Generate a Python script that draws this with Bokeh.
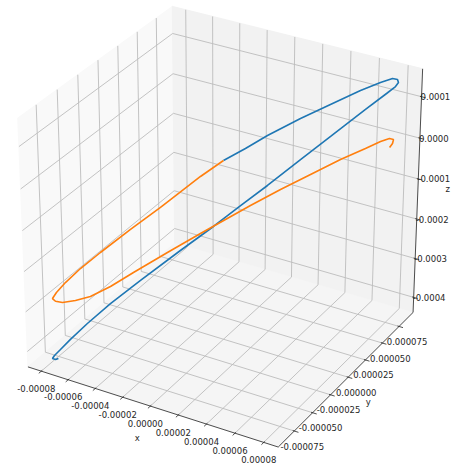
import numpy as np
from bokeh.plotting import figure
from bokeh.models import Range1d
from bokeh.embed import file_html
from bokeh.resources import INLINE
from bokeh.core.properties import value

# ---------------- data ----------------
blue_x = [0.0, 0.99e-5, 1.98e-5, 3.47e-5, 4.82e-5, 6.18e-5, 7.08e-5, 7.63e-5, 7.86e-5, 7.91e-5,
          7.78e-5, 7.38e-5, 6.43e-5, 4.86e-5, 3.50e-5, 2.00e-5, 0.78e-5, -0.46e-5, -1.97e-5, -3.80e-5,
          -5.18e-5, -6.25e-5, -7.04e-5, -7.50e-5, -7.78e-5, -7.88e-5, -7.74e-5, -7.61e-5]
blue_y = [0.0, 1.06e-5, 2.13e-5, 3.72e-5, 5.17e-5, 6.62e-5, 7.60e-5, 8.18e-5, 8.43e-5, 8.48e-5,
          8.34e-5, 7.91e-5, 6.90e-5, 5.21e-5, 3.75e-5, 2.15e-5, 0.83e-5, -0.49e-5, -2.11e-5, -4.07e-5,
          -5.56e-5, -6.70e-5, -7.54e-5, -8.05e-5, -8.35e-5, -8.45e-5, -8.30e-5, -8.16e-5]
blue_z = [0.64e-5, 2.85e-5, 5.30e-5, 8.38e-5, 10.83e-5, 13.29e-5, 14.61e-5, 15.21e-5, 14.82e-5, 14.08e-5,
          13.21e-5, 11.81e-5, 8.60e-5, 3.16e-5, -1.49e-5, -6.79e-5, -10.83e-5, -15.11e-5, -19.96e-5, -26.08e-5,
          -30.81e-5, -35.04e-5, -38.48e-5, -40.67e-5, -41.98e-5, -42.67e-5, -43.03e-5, -42.88e-5]

orange_x = [0.0, -1.04e-5, -1.81e-5, -2.85e-5, -4.21e-5, -5.58e-5, -6.49e-5, -7.18e-5, -7.60e-5, -7.78e-5,
            -7.65e-5, -7.34e-5, -6.76e-5, -6.08e-5, -5.16e-5, -4.11e-5, -2.56e-5, -1.05e-5, 0.09e-5, 1.23e-5,
            2.60e-5, 3.97e-5, 5.34e-5, 6.48e-5, 7.17e-5, 7.58e-5, 7.77e-5, 7.73e-5, 7.60e-5]
orange_y = [0.0, -1.11e-5, -1.94e-5, -3.05e-5, -4.51e-5, -5.98e-5, -6.96e-5, -7.70e-5, -8.14e-5, -8.35e-5,
            -8.21e-5, -7.87e-5, -7.24e-5, -6.52e-5, -5.54e-5, -4.41e-5, -2.74e-5, -1.13e-5, 0.10e-5, 1.32e-5,
            2.79e-5, 4.26e-5, 5.72e-5, 6.95e-5, 7.69e-5, 8.13e-5, 8.33e-5, 8.29e-5, 8.15e-5]
orange_z = [0.64e-5, -2.51e-5, -5.12e-5, -8.76e-5, -13.16e-5, -17.82e-5, -21.10e-5, -24.06e-5, -26.23e-5, -27.58e-5,
            -28.36e-5, -28.92e-5, -28.86e-5, -28.38e-5, -26.56e-5, -23.85e-5, -20.02e-5, -16.41e-5, -13.78e-5, -11.14e-5,
            -8.18e-5, -5.46e-5, -2.73e-5, -0.83e-5, 0.40e-5, 0.86e-5, 0.49e-5, -0.45e-5, -1.33e-5]

x_lim = [-0.00009, 0.00009]
y_lim = [-0.0000965, 0.0000965]
z_lim = [-0.0004392, 0.0001664]

x_ticks = [-0.00008, -0.00006, -0.00004, -0.00002, 0.0, 0.00002, 0.00004, 0.00006, 0.00008]
x_tick_labels = ["-0.00008", "-0.00006", "-0.00004", "-0.00002", "0.00000",
                 "0.00002", "0.00004", "0.00006", "0.00008"]
y_ticks = [-0.000075, -0.00005, -0.000025, 0.0, 0.000025, 0.00005, 0.000075]
y_tick_labels = ["-0.000075", "-0.000050", "-0.000025", "0.000000",
                 "0.000025", "0.000050", "0.000075"]
z_ticks = [-0.0004, -0.0003, -0.0002, -0.0001, 0.0, 0.0001]
z_tick_labels = ["-0.0004", "-0.0003", "-0.0002", "-0.0001", "0.0000", "0.0001"]

# ---------------- 3D view (matplotlib-like default view) ----------------
ELEV, AZIM, DIST = 30.0, -60.0, 10.0
el, az = np.radians(ELEV), np.radians(AZIM)
Rc = np.array([0.5, 0.5, 0.5])
EYE = Rc + DIST * np.array([np.cos(az) * np.cos(el), np.sin(az) * np.cos(el), np.sin(el)])
NV = (EYE - Rc) / np.linalg.norm(EYE - Rc)
UV = np.cross(np.array([0.0, 0.0, 1.0]), NV)
UV = UV / np.linalg.norm(UV)
VV = np.cross(NV, UV)


def proj(x, y, z):
    x = np.atleast_1d(np.asarray(x, float))
    y = np.atleast_1d(np.asarray(y, float))
    z = np.atleast_1d(np.asarray(z, float))
    p = np.stack([(x - x_lim[0]) / (x_lim[1] - x_lim[0]),
                  (y - y_lim[0]) / (y_lim[1] - y_lim[0]),
                  (z - z_lim[0]) / (z_lim[1] - z_lim[0])], axis=-1)
    d = p - EYE
    w = -(d @ NV)
    return list((d @ UV) / w), list((d @ VV) / w)


x0, x1 = x_lim
y0, y1 = y_lim
z0, z1 = z_lim
Rx, Ry, Rz = x1 - x0, y1 - y0, z1 - z0

p = figure(width=452, height=465, output_backend="svg", toolbar_location=None,
           x_range=Range1d(-0.07719, 0.07927), y_range=Range1d(-0.08669, 0.07698),
           x_axis_type=None, y_axis_type=None, min_border=0)
p.outline_line_color = None
p.background_fill_color = "white"
p.border_fill_color = "white"

# panes
panes = [
    ([x0, x0, x0, x0], [y0, y1, y1, y0], [z0, z0, z1, z1], "#f9f9f9"),
    ([x0, x1, x1, x0], [y1, y1, y1, y1], [z0, z0, z1, z1], "#f2f2f2"),
    ([x0, x1, x1, x0], [y0, y0, y1, y1], [z0, z0, z0, z0], "#f5f5f5"),
]
pxs, pys, pcs = [], [], []
for X, Y, Z, c in panes:
    a, b = proj(X, Y, Z)
    pxs.append(a); pys.append(b); pcs.append(c)
p.patches(pxs, pys, fill_color=pcs, line_color=pcs, line_width=1)

# grid lines
gxs, gys = [], []
for v in x_ticks:
    a, b = proj([v, v, v], [y0, y1, y1], [z0, z0, z1]); gxs.append(a); gys.append(b)
for v in y_ticks:
    a, b = proj([x1, x0, x0], [v, v, v], [z0, z0, z1]); gxs.append(a); gys.append(b)
for v in z_ticks:
    a, b = proj([x0, x0, x1], [y0, y1, y1], [v, v, v]); gxs.append(a); gys.append(b)
p.multi_line(gxs, gys, line_color="#bcbcbc", line_width=0.9)

# axis lines
axs, ays = [], []
for X, Y, Z in [([x0, x1], [y0, y0], [z0, z0]), ([x1, x1], [y0, y1], [z0, z0]), ([x1, x1], [y1, y1], [z0, z1])]:
    a, b = proj(X, Y, Z); axs.append(a); ays.append(b)
p.multi_line(axs, ays, line_color="#222222", line_width=0.8)

# tick marks
txs, tys = [], []
for v in x_ticks:
    a, b = proj([v, v], [y0 + 0.006 * Ry, y0 - 0.016 * Ry], [z0, z0]); txs.append(a); tys.append(b)
for v in y_ticks:
    a, b = proj([x1 - 0.006 * Rx, x1 + 0.016 * Rx], [v, v], [z0, z0]); txs.append(a); tys.append(b)
for v in z_ticks:
    a, b = proj([x1 - 0.006 * Rx, x1 + 0.016 * Rx], [y1, y1], [v, v]); txs.append(a); tys.append(b)
p.multi_line(txs, tys, line_color="#222222", line_width=0.8)

FONT = value("DejaVu Sans")
FS = value("8.5px")
TC = "#262626"

a, b = proj(x_ticks, [y0] * len(x_ticks), [z0] * len(x_ticks))
p.text(a, b, text=x_tick_labels, text_font=FONT, text_font_size=FS, text_color=TC,
       text_align="center", text_baseline="middle", x_offset=-5, y_offset=17)
a, b = proj([x1] * len(y_ticks), y_ticks, [z0] * len(y_ticks))
p.text(a, b, text=y_tick_labels, text_font=FONT, text_font_size=FS, text_color=TC,
       text_align="center", text_baseline="middle", x_offset=8, y_offset=15)
a, b = proj([x1] * len(z_ticks), [y1] * len(z_ticks), z_ticks)
p.text(a, b, text=z_tick_labels, text_font=FONT, text_font_size=FS, text_color=TC,
       text_align="left", text_baseline="middle", x_offset=-1, y_offset=0)

# axis titles
a, b = proj([(x0 + x1) / 2], [y0], [z0])
p.text(a, b, text=["x"], text_font=FONT, text_font_size=FS, text_color=TC,
       text_align="center", text_baseline="middle", x_offset=-13, y_offset=32)
a, b = proj([x1], [(y0 + y1) / 2], [z0])
p.text(a, b, text=["y"], text_font=FONT, text_font_size=FS, text_color=TC,
       text_align="center", text_baseline="middle", x_offset=20, y_offset=25)
a, b = proj([x1], [y1], [(z0 + z1) / 2])
p.text(a, b, text=["z"], text_font=FONT, text_font_size=FS, text_color=TC,
       text_align="center", text_baseline="middle", x_offset=30, y_offset=-5)

# curves
a, b = proj(blue_x, blue_y, blue_z)
p.line(a, b, line_color="#1f77b4", line_width=1.6)
a, b = proj(orange_x, orange_y, orange_z)
p.line(a, b, line_color="#ff7f0e", line_width=1.6)

open("out.html", "w").write(file_html(p, INLINE))
